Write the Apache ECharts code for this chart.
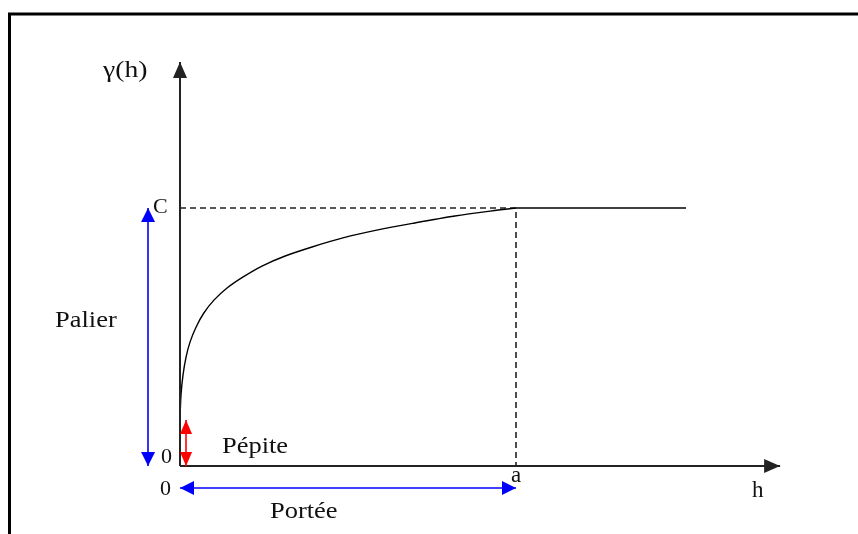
<!DOCTYPE html>
<html>
<head>
<meta charset="utf-8">
<script src="https://cdn.jsdelivr.net/npm/echarts@6/dist/echarts.min.js"></script>
<style>html,body{margin:0;padding:0;background:#fff}#c{width:858px;height:534px}</style>
</head>
<body>
<div id="c"></div>
<script>
// Variogram schematic (normalised units: range a = 1, sill C = 1)
const curveH     = [0, 0.003, 0.009, 0.018, 0.030, 0.048, 0.071, 0.101, 0.140, 0.188, 0.244, 0.313, 0.393, 0.485, 0.589, 0.699, 0.818, 0.923, 1.0];
const curveGamma = [0.178, 0.275, 0.353, 0.422, 0.481, 0.539, 0.593, 0.643, 0.690, 0.733, 0.775, 0.814, 0.849, 0.884, 0.915, 0.942, 0.969, 0.988, 1.0];
const nugget = 0.178;     // Pépite
const sill = 1.0;         // C (Palier)
const rangeA = 1.0;       // a (Portée)
const plateauEnd = 1.506; // end of drawn plateau
const hAxisEnd = 1.786;   // tip of h axis arrow
const gAxisEnd = 1.566;   // tip of gamma axis arrow
const palierX = -0.095;   // position of the Palier arrow
const porteeY = -0.085;   // position of the Portée arrow
const nuggetX = 0.018;    // position of the Pépite arrow

const curve = curveH.map((h, i) => [h, curveGamma[i]]);
const plateau = [[rangeA, sill], [plateauEnd, sill]];

const serif = '"Liberation Serif", "DejaVu Serif", serif';
const chart = echarts.init(document.getElementById('c'));

function arrowSeries(color, width, pairs, syms, size) {
  return {
    type: 'line', data: [], silent: true,
    markLine: {
      silent: true, animation: false,
      symbol: syms, symbolSize: size,
      symbolOffset: [[0, size[1] / 2], [0, size[1] / 2]],
      label: {show: false},
      lineStyle: {color: color, width: width, type: 'solid'},
      emphasis: {disabled: true},
      data: pairs.map(p => [{coord: p[0]}, {coord: p[1]}])
    }
  };
}

const labels = [
  {t: 'γ(h)', x: 103, y: 71, s: 23, k: 1.2},
  {t: 'C', x: 153, y: 207, s: 22, k: 1.0},
  {t: '0', x: 161, y: 457, s: 22, k: 1.0},
  {t: 'Palier', x: 55, y: 321, s: 23, k: 1.15},
  {t: 'Pépite', x: 222, y: 447, s: 23, k: 1.15},
  {t: '0', x: 160, y: 489, s: 22, k: 1.0},
  {t: 'a', x: 511, y: 476, s: 23, k: 1.0},
  {t: 'h', x: 752, y: 491, s: 23, k: 1.0},
  {t: 'Portée', x: 270, y: 512, s: 23, k: 1.15}
];

chart.setOption({
  animation: false,
  backgroundColor: '#fff',
  grid: {left: 12, right: 73.2, top: 53.2, bottom: 16.4},
  xAxis: {type: 'value', min: -0.5, max: 1.8, show: false},
  yAxis: {type: 'value', min: -0.2, max: 1.6, show: false},
  graphic: [
    {type: 'rect', shape: {x: 9.5, y: 14, width: 1000, height: 1000},
     style: {fill: 'none', stroke: '#000', lineWidth: 3}, silent: true}
  ].concat(labels.map(l => ({
    type: 'text', x: l.x, y: l.y, scaleX: l.k, silent: true,
    style: {text: l.t, font: l.s + 'px ' + serif, fill: '#111', textVerticalAlign: 'middle'}
  }))),
  series: [
    {
      type: 'line', data: [[0, sill], [rangeA, sill], [rangeA, 0]],
      showSymbol: false, silent: true,
      lineStyle: {color: '#222', width: 1.6, type: [6, 4]}
    },
    {
      type: 'line', data: curve, smooth: 0.3,
      showSymbol: false, silent: true,
      lineStyle: {color: '#000', width: 1.4}
    },
    {
      type: 'line', data: plateau,
      showSymbol: false, silent: true,
      lineStyle: {color: '#000', width: 1.4}
    },
    arrowSeries('#222', 2, [[[0, 0], [hAxisEnd, 0]], [[0, 0], [0, gAxisEnd]]], ['none', 'triangle'], [14, 16]),
    arrowSeries('#0000ff', 1.6, [[[palierX, sill], [palierX, 0]], [[0, porteeY], [rangeA, porteeY]]], ['triangle', 'triangle'], [14, 14]),
    arrowSeries('#ff0000', 1.6, [[[nuggetX, nugget], [nuggetX, 0]]], ['triangle', 'triangle'], [12, 14])
  ]
});
</script>
</body>
</html>
